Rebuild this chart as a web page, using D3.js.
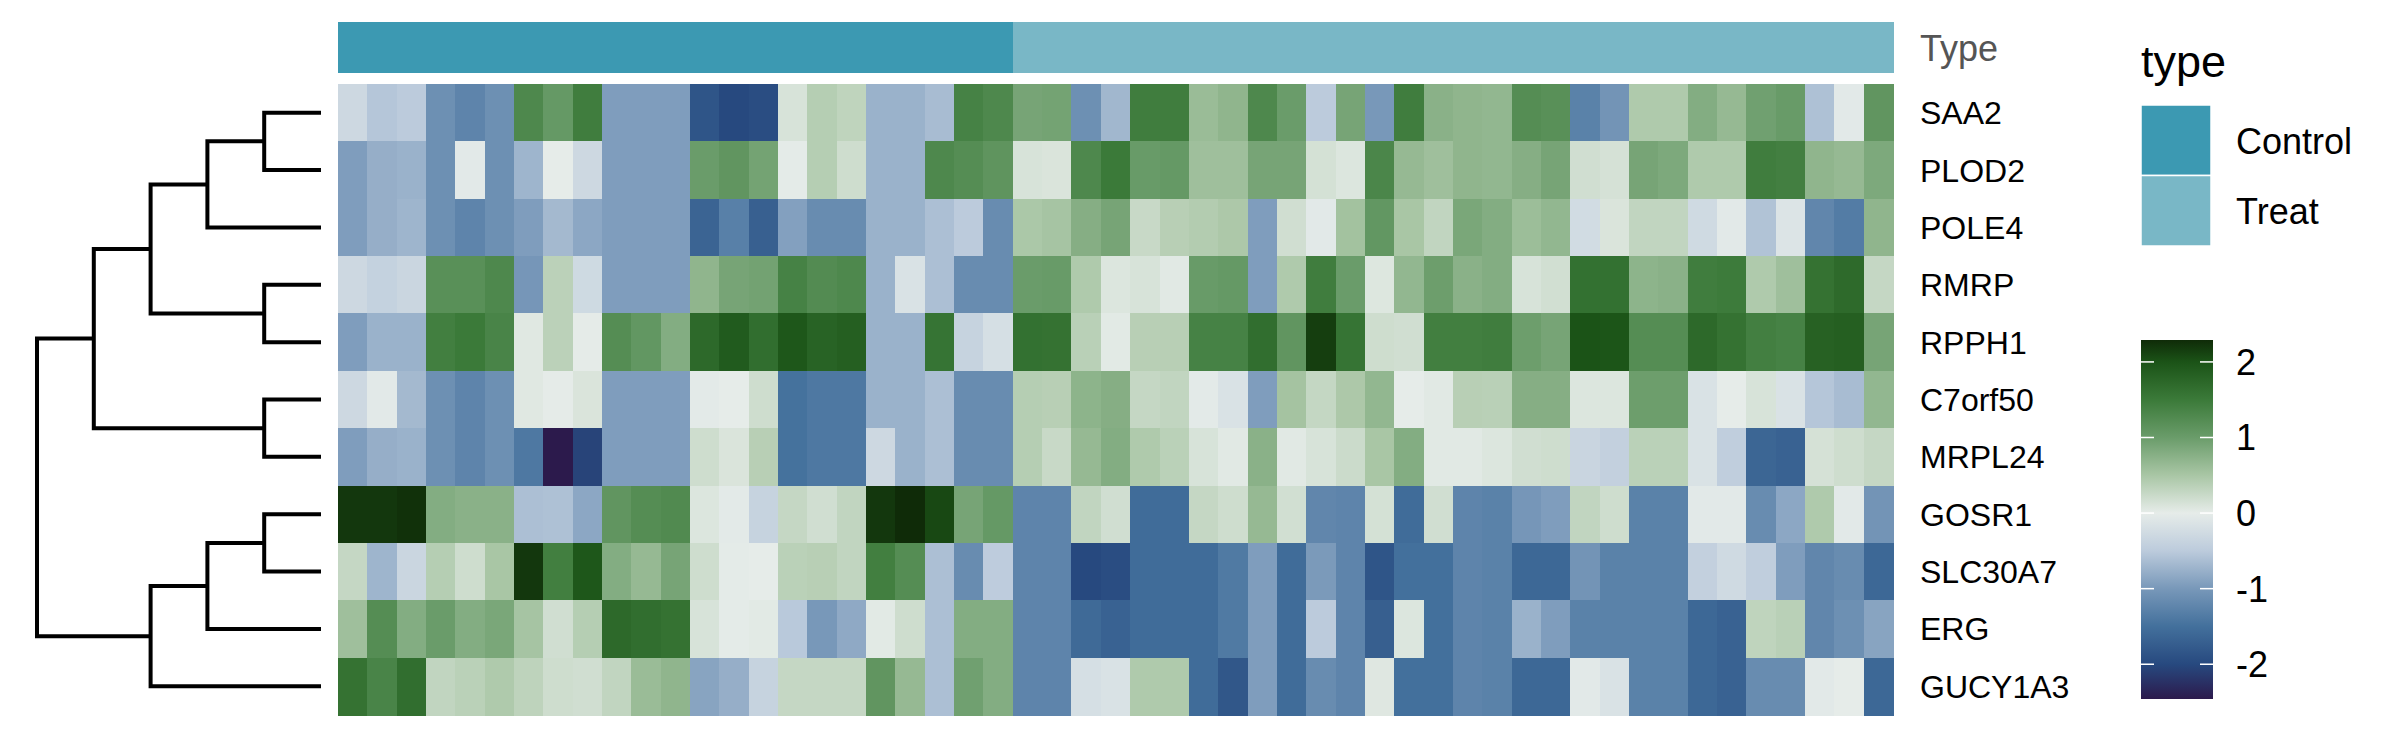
<!DOCTYPE html>
<html><head><meta charset="utf-8">
<script src="https://cdn.jsdelivr.net/npm/d3@7"></script>
<style>body{margin:0;background:#fff} svg{display:block} text{font-family:"Liberation Sans",Arial,sans-serif}</style>
</head><body><svg id="chart" width="2400" height="750"></svg>
<script>
// ---- data ----
const genes = ["SAA2","PLOD2","POLE4","RMRP","RPPH1","C7orf50","MRPL24","GOSR1","SLC30A7","ERG","GUCY1A3"];
const sampleTypes = [...Array(23).fill("Control"), ...Array(30).fill("Treat")];
const typeLevels = ["Control","Treat"];
const typeColors = ["#3c99b2","#79b7c6"];

const saa2 = [-0.3,-0.55,-0.5,-1.1,-1.25,-1.1,1.3,1.05,1.45,-0.95,-0.95,-0.95,-1.85,-2.0,-1.95,0.12,0.4,0.32,-0.75,-0.75,-0.65,1.38,1.3,0.9,0.92,-1.1,-0.7,1.45,1.45,0.62,0.7,1.3,1.0,-0.5,0.9,-1.0,1.45,0.75,0.7,0.68,1.22,1.18,-1.28,-1.05,0.45,0.45,0.8,0.65,0.95,1.02,-0.6,-0.05,1.1];
const plod2 = [-0.95,-0.78,-0.75,-1.1,-0.05,-1.1,-0.72,0.0,-0.3,-0.95,-0.95,-0.95,1.0,1.1,0.92,-0.02,0.4,0.2,-0.75,-0.75,1.3,1.22,1.12,0.12,0.1,1.3,1.5,1.02,1.05,0.58,0.58,0.9,0.9,0.15,0.08,1.33,0.65,0.58,0.7,0.68,0.78,0.9,0.18,0.14,0.9,0.85,0.45,0.45,1.45,1.42,0.7,0.65,0.85];
const pole4 = [-0.95,-0.78,-0.72,-1.1,-1.25,-1.1,-0.95,-0.68,-0.85,-0.95,-0.95,-0.95,-1.65,-1.3,-1.7,-0.92,-1.15,-1.15,-0.75,-0.75,-0.62,-0.5,-1.15,0.48,0.52,0.78,0.9,0.25,0.38,0.42,0.47,-0.95,0.18,-0.05,0.55,1.08,0.5,0.3,0.87,0.8,0.6,0.68,-0.25,0.1,0.3,0.3,-0.27,-0.05,-0.58,-0.12,-1.22,-1.35,0.7];
const rmrp = [-0.3,-0.4,-0.33,1.18,1.18,1.3,-1.02,0.35,-0.28,-0.95,-0.95,-0.95,0.7,0.9,0.93,1.38,1.25,1.3,-0.75,-0.15,-0.62,-1.15,-1.15,1.0,1.02,0.45,0.08,0.12,0.04,1.02,1.05,-0.95,0.45,1.45,1.0,0.07,0.68,0.98,0.75,0.8,0.12,0.17,1.62,1.62,0.72,0.75,1.45,1.48,0.45,0.58,1.6,1.7,0.27];
const rpph1 = [-0.95,-0.75,-0.75,1.43,1.5,1.35,0.05,0.35,0.01,1.22,1.08,0.8,1.72,1.9,1.65,1.95,1.8,1.85,-0.75,-0.75,1.58,-0.38,-0.2,1.62,1.6,0.37,0.03,0.38,0.38,1.38,1.38,1.65,1.1,2.15,1.58,0.2,0.18,1.43,1.43,1.45,0.98,0.9,2.0,1.98,1.22,1.22,1.72,1.6,1.42,1.38,1.82,1.85,0.9];
const c7orf50 = [-0.3,-0.05,-0.68,-1.1,-1.25,-1.1,0.05,0.01,0.1,-0.95,-0.95,-0.95,-0.03,0.0,0.2,-1.48,-1.4,-1.4,-0.75,-0.75,-0.62,-1.15,-1.15,0.4,0.38,0.72,0.78,0.27,0.3,-0.03,-0.15,-0.95,0.53,0.28,0.47,0.68,0.0,0.04,0.38,0.37,0.78,0.78,0.08,0.08,0.98,0.98,-0.15,0.0,0.12,-0.15,-0.55,-0.65,0.68];
const mrpl24 = [-0.95,-0.78,-0.75,-1.1,-1.25,-1.1,-1.4,-2.46,-2.05,-0.95,-0.95,-0.95,0.2,0.1,0.38,-1.48,-1.4,-1.4,-0.3,-0.75,-0.62,-1.15,-1.15,0.4,0.25,0.65,0.8,0.45,0.36,0.12,0.04,0.75,0.04,0.12,0.22,0.5,0.8,0.04,0.04,0.08,0.18,0.2,-0.35,-0.42,0.36,0.36,-0.15,-0.45,-1.63,-1.68,0.14,0.2,0.27];
const gosr1 = [2.2,2.2,2.25,0.8,0.75,0.75,-0.62,-0.6,-0.85,1.1,1.22,1.27,0.08,-0.03,-0.38,0.27,0.18,0.3,2.2,2.29,2.08,0.9,1.05,-1.25,-1.25,0.3,0.18,-1.55,-1.55,0.27,0.2,0.65,0.17,-1.22,-1.25,0.15,-1.55,0.18,-1.25,-1.28,-1.02,-0.95,0.3,0.2,-1.28,-1.28,-0.05,-0.05,-1.15,-0.85,0.45,-0.05,-1.05];
const slc30a7 = [0.27,-0.72,-0.33,0.4,0.2,0.5,2.2,1.43,1.95,0.8,0.65,0.9,0.2,-0.02,0.0,0.36,0.38,0.3,1.43,1.22,-0.62,-1.15,-0.48,-1.25,-1.25,-2.0,-1.95,-1.55,-1.55,-1.55,-1.38,-0.95,-1.55,-0.98,-1.25,-1.85,-1.5,-1.5,-1.25,-1.28,-1.6,-1.6,-1.05,-1.28,-1.28,-1.28,-0.42,-0.27,-0.45,-0.95,-1.22,-1.15,-1.6];
const erg = [0.58,1.22,0.8,1.0,0.8,0.87,0.52,0.18,0.4,1.72,1.65,1.6,0.12,-0.02,0.03,-0.52,-1.0,-0.83,0.03,0.2,-0.62,0.8,0.8,-1.25,-1.25,-1.58,-1.68,-1.55,-1.55,-1.55,-1.38,-0.95,-1.55,-0.5,-1.25,-1.72,0.08,-1.5,-1.25,-1.28,-0.75,-0.95,-1.28,-1.28,-1.28,-1.28,-1.6,-1.68,0.32,0.37,-1.22,-1.1,-0.88];
const gucy1a3 = [1.6,1.35,1.65,0.3,0.36,0.45,0.33,0.2,0.18,0.3,0.62,0.7,-0.88,-0.78,-0.38,0.27,0.27,0.27,1.1,0.65,-0.62,0.95,0.8,-1.25,-1.25,-0.2,-0.15,0.45,0.45,-1.55,-1.82,-0.95,-1.55,-1.15,-1.25,0.06,-1.5,-1.5,-1.25,-1.28,-1.6,-1.6,-0.05,-0.15,-1.28,-1.28,-1.6,-1.68,-1.15,-1.15,-0.05,0.0,-1.6];
const expression = [saa2, plod2, pole4, rmrp, rpph1, c7orf50, mrpl24, gosr1, slc30a7, erg, gucy1a3];

const colorStops = [-2.46,-2.0,-1.5,-1.0,-0.5,0,0.5,1.0,1.5,2.0,2.29];
const colorRange = ["#2c1a4c","#27497f","#43709c","#7898b9","#bccbdc","#e6ece9","#a9c6a5","#6a9c6a","#3b7a39","#1b5317","#0f2b08"];
const legendTicks = [2,1,0,-1,-2];

// row dendrogram: merge heights
const dendrogram = {h:5, children:[
  {h:4, children:[
    {h:3, children:[
      {h:2, children:[{h:1, children:[{name:"SAA2",h:0},{name:"PLOD2",h:0}]},{name:"POLE4",h:0}]},
      {h:1, children:[{name:"RMRP",h:0},{name:"RPPH1",h:0}]}]},
    {h:1, children:[{name:"C7orf50",h:0},{name:"MRPL24",h:0}]}]},
  {h:3, children:[
    {h:2, children:[{h:1, children:[{name:"GOSR1",h:0},{name:"SLC30A7",h:0}]},{name:"ERG",h:0}]},
    {name:"GUCY1A3",h:0}]}]};

// ---- drawing ----
const svg = d3.select("#chart");
const nCol = sampleTypes.length;
const x = d3.scaleBand().domain(d3.range(nCol)).range([338,1893]);
const y = d3.scaleBand().domain(genes).range([84,715]);
const color = d3.scaleLinear().domain(colorStops).range(colorRange).interpolate(d3.interpolateRgb).clamp(true);
const typeColor = d3.scaleOrdinal().domain(typeLevels).range(typeColors);

// annotation bar
svg.append("g").selectAll("rect").data(sampleTypes).join("rect")
  .attr("x", (d,i)=>x(i)).attr("y",22).attr("width",x.bandwidth()+0.5).attr("height",50.5)
  .attr("fill", d=>typeColor(d)).attr("shape-rendering","crispEdges");

// heatmap cells
const cells = [];
expression.forEach((row,r)=>row.forEach((v,c)=>cells.push({g:genes[r],c,v})));
svg.append("g").selectAll("rect").data(cells).join("rect")
  .attr("x",d=>x(d.c)).attr("y",d=>y(d.g))
  .attr("width",x.bandwidth()+0.6).attr("height",y.bandwidth()+0.6)
  .attr("fill",d=>color(d.v)).attr("shape-rendering","crispEdges");

// labels
svg.append("text").attr("x",1920).attr("y",61).attr("font-size",36).attr("fill","#555555").text("Type");
svg.append("g").selectAll("text").data(genes).join("text")
  .attr("x",1920).attr("y",d=>y(d)+y.bandwidth()/2+11.5)
  .attr("font-size",32).attr("fill","#000").text(d=>d);

// dendrogram
const root = d3.hierarchy(dendrogram);
const hx = d3.scaleLinear().domain([0,5]).range([321,37]);
root.eachAfter(n=>{
  if(!n.children){ n.py = y(n.data.name)+y.bandwidth()/2; }
  else { n.py = (n.children[0].py + n.children[n.children.length-1].py)/2; }
  n.px = hx(n.data.h);
});
const dg = svg.append("g").attr("fill","none").attr("stroke","#000").attr("stroke-width",4).attr("stroke-linejoin","miter");
root.descendants().filter(n=>n.children).forEach(n=>{
  const [a,b] = n.children;
  dg.append("path").attr("d",`M${a.px},${a.py}H${n.px}V${b.py}H${b.px}`);
});

// legend: type
const lg = svg.append("g");
lg.append("text").attr("x",2141).attr("y",77).attr("font-size",45).text("type");
const boxY = d3.scaleBand().domain(typeLevels).range([105,246]);
lg.selectAll("rect.t").data(typeLevels).join("rect").attr("class","t")
  .attr("x",2141).attr("y",d=>boxY(d)).attr("width",70).attr("height",boxY.bandwidth())
  .attr("fill",d=>typeColor(d)).attr("stroke","#fff").attr("stroke-width",1.5);
lg.selectAll("text.t").data(typeLevels).join("text").attr("class","t")
  .attr("x",2236).attr("y",d=>boxY(d)+boxY.bandwidth()/2+13.5)
  .attr("font-size",36).text(d=>d);

// legend: color bar
const cbY = d3.scaleLinear().domain([colorStops[0], colorStops[colorStops.length-1]]).range([699,340]);
const grad = svg.append("defs").append("linearGradient").attr("id","cb")
  .attr("x1",0).attr("y1",1).attr("x2",0).attr("y2",0);
grad.selectAll("stop").data(colorStops).join("stop")
  .attr("offset",d=>(d-colorStops[0])/(colorStops[colorStops.length-1]-colorStops[0]))
  .attr("stop-color",d=>color(d));
lg.append("rect").attr("x",2141).attr("y",340).attr("width",72).attr("height",359).attr("fill","url(#cb)");
const tk = lg.append("g").attr("stroke","#fff").attr("stroke-width",1.5);
legendTicks.forEach(t=>{
  tk.append("line").attr("x1",2141).attr("x2",2154).attr("y1",cbY(t)).attr("y2",cbY(t));
  tk.append("line").attr("x1",2200).attr("x2",2213).attr("y1",cbY(t)).attr("y2",cbY(t));
});
lg.selectAll("text.tick").data(legendTicks).join("text").attr("class","tick")
  .attr("x",2236).attr("y",d=>cbY(d)+13).attr("font-size",36).text(d=>String(d));
</script></body></html>
